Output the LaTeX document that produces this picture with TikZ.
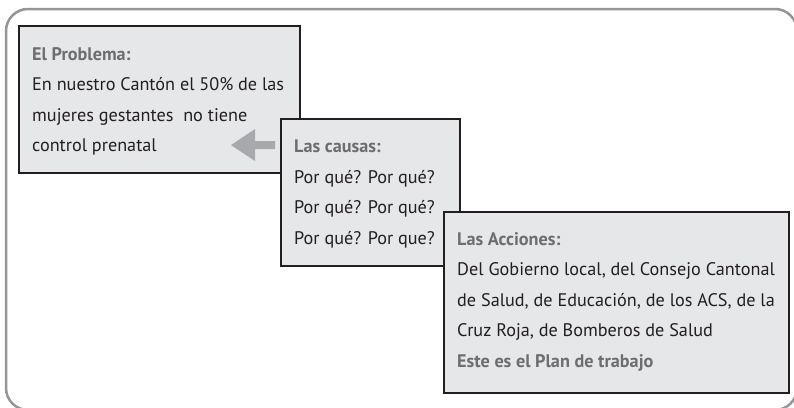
\documentclass[tikz,border=0pt]{standalone}
\usepackage{fontspec}
\setmainfont{PT Sans}
\definecolor{boxfill}{HTML}{E6E7E8}
\definecolor{boxline}{HTML}{231F20}
\definecolor{framegray}{HTML}{939598}
\definecolor{headgray}{HTML}{6D6E71}
\definecolor{arrowgray}{HTML}{A7A9AC}
\tikzset{
  panel/.style={draw=boxline, fill=boxfill, line width=1.9pt, inner sep=0pt},
  paneltext/.style={anchor=north west, inner sep=0pt, align=left, text=boxline,
    font=\fontsize{18.2}{30.5}\selectfont},
}
\newcommand{\hd}[1]{\textcolor{headgray}{\bfseries #1}}
\begin{document}
\begin{tikzpicture}[x=1pt,y=-1pt]
\useasboundingbox (0,0) rectangle (794,407);
\clip (0,0) rectangle (794,407);
\draw[framegray, line width=2.5pt, rounded corners=22pt] (6,9) rectangle (797,410);
% box 1
\path[panel] (19,26) rectangle (300,173);
\node[paneltext] (t1) at (32,47) {\hd{El Problema:}\\En nuestro Cantón el 50\% de las\\mujeres gestantes\ \ no tiene\\control prenatal};
% arrow
\fill[arrowgray] (275,141) -- (255,141) -- (255,129) -- (231,145) -- (255,161) -- (255,149) -- (275,149) -- cycle;
% box 2
\path[panel] (281,119) rectangle (460,266);
\node[paneltext] (t2) at (294,140) {\hd{Las causas:}\\Por qué? Por qué?\\Por qué? Por qué?\\Por qué? Por que?};
% box 3
\path[panel] (444,212) rectangle (789,393);
\node[paneltext] (t3) at (457,232) {\hd{Las Acciones:}\\Del Gobierno local, del Consejo Cantonal\\de Salud, de Educación, de los ACS, de la\\Cruz Roja, de Bomberos de Salud\\\hd{Este es el Plan de trabajo}};
\end{tikzpicture}
\end{document}
